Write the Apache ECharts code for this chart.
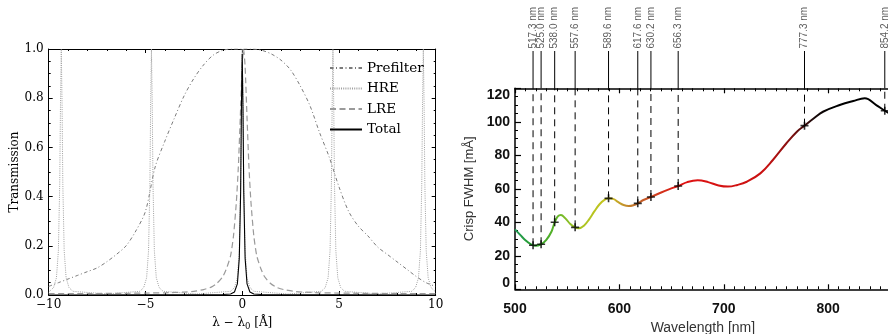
<!DOCTYPE html>
<html><head><meta charset="utf-8">
<script src="https://cdn.jsdelivr.net/npm/echarts@6/dist/echarts.min.js"></script>
<style>html,body{margin:0;padding:0;background:#fff}#c{width:888px;height:334px}</style>
</head><body><div id="c"></div>
<script>
// ---------- Left panel data (transmission vs lambda - lambda0, Angstrom) ----------
const prefX = [-10,-9.5,-9,-8.5,-8,-7.5,-7,-6.5,-6,-5.5,-5,-4.5,-4,-3.5,-3,-2.5,-2,-1.5,-1,-0.5,0,0.5,1,1.5,2,2.5,3,3.5,4,4.5,5,5.5,6,6.5,7,7.5,8,8.5,9,9.5,10];
const prefY = [0.035,0.05,0.065,0.08,0.095,0.11,0.135,0.165,0.2,0.26,0.34,0.52,0.625,0.72,0.81,0.88,0.935,0.975,0.995,1.0,1.0,1.0,0.995,0.98,0.955,0.915,0.85,0.77,0.66,0.56,0.44,0.34,0.28,0.24,0.195,0.165,0.135,0.105,0.075,0.05,0.035];

const hreX = [-10,-9.95,-9.75,-9.6,-9.5,-9.43,-9.39,-9.35,-9.31,-9.27,-9.2,-9.1,-8.95,-8.75,
  -7.0,
  -5.29,-5.09,-4.94,-4.84,-4.77,-4.73,-4.69,-4.65,-4.61,-4.54,-4.44,-4.29,-4.09,
  -2.35,
  -0.6,-0.4,-0.25,-0.15,-0.08,-0.04,0,0.04,0.08,0.15,0.25,0.4,0.6,
  2.35,
  4.09,4.29,4.44,4.54,4.61,4.65,4.69,4.73,4.77,4.84,4.94,5.09,5.29,
  7.0,
  8.76,8.96,9.11,9.21,9.28,9.32,9.36,9.4,9.44,9.51,9.61,9.76,9.96,10];
const hreY = [0.012,0.015,0.03,0.07,0.18,0.45,0.78,1.0,0.78,0.45,0.18,0.07,0.03,0.015,
  0.004,
  0.015,0.03,0.07,0.18,0.45,0.78,1.0,0.78,0.45,0.18,0.07,0.03,0.015,
  0.004,
  0.015,0.03,0.07,0.18,0.45,0.78,1.0,0.78,0.45,0.18,0.07,0.03,0.015,
  0.004,
  0.015,0.03,0.07,0.18,0.45,0.78,1.0,0.78,0.45,0.18,0.07,0.03,0.015,
  0.004,
  0.015,0.03,0.07,0.18,0.45,0.78,1.0,0.78,0.45,0.18,0.07,0.03,0.015,0.013];

const lreX = [-10,-8,-6,-5,-4,-3,-2.5,-2,-1.6,-1.3,-1.0,-0.8,-0.6,-0.45,-0.3,-0.2,-0.1,0,0.07,0.15,0.25,0.35,0.45,0.6,0.75,0.95,1.15,1.45,1.75,2.15,2.65,3.15,4,5,6,8,10];
const lreY = [0.006,0.006,0.007,0.008,0.009,0.012,0.015,0.022,0.032,0.048,0.075,0.11,0.16,0.24,0.38,0.52,0.72,0.93,1.0,0.93,0.72,0.52,0.38,0.24,0.16,0.11,0.075,0.048,0.032,0.022,0.015,0.012,0.009,0.008,0.007,0.006,0.006];

const totX = [-10,-5,-1,-0.6,-0.4,-0.25,-0.15,-0.08,-0.04,0,0.04,0.08,0.15,0.25,0.4,0.6,1,5,10];
const totY = [0,0.001,0.002,0.004,0.012,0.045,0.15,0.42,0.76,0.98,0.76,0.42,0.15,0.045,0.012,0.004,0.002,0.001,0];

const leftXTicks = [-10,-5,0,5,10];
const leftYTicks = [0.0,0.2,0.4,0.6,0.8,1.0];

// ---------- Right panel data (Crisp FWHM vs wavelength) ----------
const fwhmNm = [500,505,510,515,519,525,530,535,538,541,544,548,553,557.6,561,566,571,576,581,586,589.6,594,599,604,609,614,617.6,623,630.2,640,648,656.3,665,675,685,695,704,713,722,735,747,760,770,777.3,786,795,811,824,835,846,854.2,860];
const fwhmVal = [35.8,32.5,29.3,27,26,26.9,29.5,34.5,40,43.5,44.3,42.5,39,37,36.4,38,41.8,46.5,50.8,53.5,54.3,54,52,50.3,49.7,50.3,51.3,53.3,55.1,57.8,59.8,61.7,64,65.1,64,62,61.3,62.3,64.2,69.2,77.2,87.2,94.1,97.7,102,106,110,112.4,114,110,106.6,104.5];

const lineNm   = [517.3,525.0,538.0,557.6,589.6,617.6,630.2,656.3,777.3,854.2];
const lineFwhm = [26.3,26.9,40.0,37.0,54.3,51.3,55.1,61.7,97.7,106.6];

const rightXTicks = [500,600,700,800];
const rightYTicks = [0,20,40,60,80,100,120];

// ---------- styles ----------
const SERIF = 'DejaVu Serif';
const SANS = 'Liberation Sans';
const wlMin = 500, wlMax = 860;
const gradNm   = [500,520,540,560,590,603,618,640,660,740,765,785,800,860];
const gradCol  = ['#1f9a5c','#2a9e2a','#5cb42a','#a4c424','#c8c41e','#c49a2a','#c2682a','#d2341c','#e01212','#c81212','#7a1010','#1a0a0a','#000000','#000000'];

const chart = echarts.init(document.getElementById('c'), null, {renderer:'canvas'});

const axLine = (w)=>({show:true, onZero:false, lineStyle:{color:'#000', width:w}});
const noSplit = {show:false};

const leftX = {
  gridIndex:0, type:'value', min:-10, max:10, interval:5,
  axisLine:axLine(1), splitLine:noSplit,
  axisTick:{show:true, inside:true, length:4, lineStyle:{color:'#000'}},
  minorTick:{show:true, splitNumber:5, length:2, lineStyle:{color:'#000'}}
};
const leftY = {
  gridIndex:0, type:'value', min:0, max:1, interval:0.2,
  axisLine:axLine(1), splitLine:noSplit,
  axisTick:{show:true, inside:true, length:4, lineStyle:{color:'#000'}},
  minorTick:{show:true, splitNumber:4, length:2, lineStyle:{color:'#000'}}
};
const rightX = {
  gridIndex:1, type:'value', min:500, max:900, interval:100,
  axisLine:axLine(1.5), splitLine:noSplit,
  axisTick:{show:true, inside:true, length:5, lineStyle:{color:'#000', width:1.2}},
  minorTick:{show:true, splitNumber:10, length:3, lineStyle:{color:'#000', width:1}}
};

const option = {
  animation:false,
  backgroundColor:'#fff',
  grid:[
    {left:48.7, top:49, width:387, height:246, containLabel:false, outerBoundsMode:'none'},
    {left:515, top:88.3, width:417.6, height:201, containLabel:false, outerBoundsMode:'none'},
    {left:515, top:51, width:417.6, height:37.3, containLabel:false, outerBoundsMode:'none'}
  ],
  legend:{
    data:['Prefilter','HRE','LRE','Total'],
    orient:'vertical', left:324, top:56, itemWidth:32, itemHeight:14, itemGap:6.5,
    textStyle:{fontFamily:SERIF, fontSize:13.5, color:'#000'},
    itemStyle:{opacity:0, borderWidth:0},
    selectedMode:false
  },
  xAxis:[
    Object.assign({}, leftX, {position:'bottom',
      axisLabel:{fontFamily:SERIF, fontSize:12, color:'#000', margin:4,
        formatter:v=> leftXTicks.indexOf(v)<0 ? '' : (v<0 ? '\u2212'+(-v) : String(v))},
      name:'{n|λ − λ}{s|0}{n| [Å]}', nameLocation:'middle', nameGap:20,
      nameTextStyle:{rich:{n:{fontFamily:SERIF, fontSize:12, color:'#000'}, s:{fontFamily:SERIF, fontSize:8.5, color:'#000', padding:[7,0,0,0]}}}
    }),
    Object.assign({}, leftX, {position:'top', axisLabel:{show:false}}),
    Object.assign({}, rightX, {position:'bottom',
      axisLabel:{fontFamily:SANS, fontSize:14, fontWeight:'bold', color:'#111', margin:13, showMaxLabel:false,
        formatter:v=> rightXTicks.indexOf(v)<0 ? '' : String(v)},
      name:'Wavelength [nm]', nameLocation:'middle', nameGap:30,
      nameTextStyle:{fontFamily:SANS, fontSize:14, color:'#333', padding:[0,41.8,0,0]}
    }),
    Object.assign({}, rightX, {gridIndex:1, position:'top', axisLabel:{show:false}}),
    {gridIndex:2, type:'value', min:500, max:900, show:false}
  ],
  yAxis:[
    Object.assign({}, leftY, {position:'left',
      axisLabel:{fontFamily:SERIF, fontSize:12, color:'#000', margin:5,
        formatter:v=> v.toFixed(1)},
      name:'Transmission', nameLocation:'middle', nameGap:26,
      nameTextStyle:{fontFamily:SERIF, fontSize:12, color:'#000'}
    }),
    Object.assign({}, leftY, {position:'right', axisLabel:{show:false}}),
    {gridIndex:1, type:'value', min:0, max:120, interval:20, position:'left',
      axisLine:axLine(1.5), splitLine:noSplit,
      axisTick:{show:true, inside:true, length:6, lineStyle:{color:'#000', width:1.2}},
      minorTick:{show:true, splitNumber:4, length:3, lineStyle:{color:'#000'}},
      axisLabel:{margin:5,
        formatter:v=> v===rightYTicks[0] ? '{lo|'+v+'}' : (v===rightYTicks[rightYTicks.length-1] ? '{hi|'+v+'}' : '{n|'+v+'}'),
        rich:{
          n:{fontFamily:SANS, fontSize:14, fontWeight:'bold', color:'#111'},
          lo:{fontFamily:SANS, fontSize:14, fontWeight:'bold', color:'#111', padding:[0,0,13,0]},
          hi:{fontFamily:SANS, fontSize:14, fontWeight:'bold', color:'#111', padding:[13,0,0,0]}
        }},
      name:'Crisp FWHM [mÅ]', nameLocation:'middle', nameGap:39,
      nameTextStyle:{fontFamily:SANS, fontSize:13, color:'#333'}
    },
    {gridIndex:2, type:'value', min:0, max:1, show:false}
  ],
  series:[]
};

const zip = (a,b)=>a.map((v,i)=>[v,b[i]]);

option.series.push(
  {name:'Prefilter', type:'line', xAxisIndex:0, yAxisIndex:0, data:zip(prefX,prefY), symbol:'none', smooth:0.3,
    itemStyle:{color:'#7a7a7a'}, lineStyle:{color:'#7a7a7a', width:1, type:[3.5,2.5,1,2.5]}, z:2},
  {name:'HRE', type:'line', xAxisIndex:0, yAxisIndex:0, data:zip(hreX,hreY), symbol:'none',
    itemStyle:{color:'#a0a0a0'}, lineStyle:{color:'#a0a0a0', width:1, type:[1,1.2]}, z:3},
  {name:'LRE', type:'line', xAxisIndex:0, yAxisIndex:0, data:zip(lreX,lreY), symbol:'none', smooth:0.2,
    itemStyle:{color:'#9a9a9a'}, lineStyle:{color:'#9a9a9a', width:1.2, type:[6,3.5]}, z:4},
  {name:'Total', type:'line', xAxisIndex:0, yAxisIndex:0, data:zip(totX,totY), symbol:'none',
    itemStyle:{color:'#000'}, lineStyle:{color:'#000', width:1.1}, z:5}
);

// coloured FWHM curve
const stops = gradNm.map((nm,i)=>({offset:(nm-wlMin)/(wlMax-wlMin), color:gradCol[i]}));
option.series.push({
  name:'fwhm', type:'line', xAxisIndex:2, yAxisIndex:2, data:zip(fwhmNm,fwhmVal), symbol:'none', smooth:0.4,
  lineStyle:{width:2, color:new echarts.graphic.LinearGradient(0,0,1,0,stops)}, z:5
});

// dashed verticals inside plot, solid stubs above, labels
const yTop = rightYTicks[rightYTicks.length-1];
lineNm.forEach((nm,i)=>{
  option.series.push({
    type:'line', xAxisIndex:2, yAxisIndex:2, data:[[nm,lineFwhm[i]],[nm,yTop]], symbol:'none',
    lineStyle:{color:'#000', width:1, type:[7,5]}, z:3, silent:true
  });
  option.series.push({
    type:'line', xAxisIndex:4, yAxisIndex:3, data:[[nm,0],[nm,1]], symbol:'none',
    lineStyle:{color:'#000', width:1}, z:3, silent:true
  });
});
option.series.push({
  type:'scatter', xAxisIndex:4, yAxisIndex:3, data:lineNm.map(nm=>[nm,1]), symbolSize:1,
  itemStyle:{color:'rgba(0,0,0,0)'},
  label:{show:true, position:'top', distance:2, rotate:90, align:'left', verticalAlign:'middle',
    fontFamily:SANS, fontSize:10, color:'#333', formatter:p=>p.value[0].toFixed(1)+' nm'},
  z:4, silent:true
});
// plus markers
option.series.push({
  type:'scatter', xAxisIndex:2, yAxisIndex:2, data:zip(lineNm,lineFwhm),
  symbol:'path://M4,0H6V4H10V6H6V10H4V6H0V4H4Z', symbolSize:8,
  itemStyle:{color:'#000'}, z:6, silent:true
});

chart.setOption(option);
</script>
</body></html>
